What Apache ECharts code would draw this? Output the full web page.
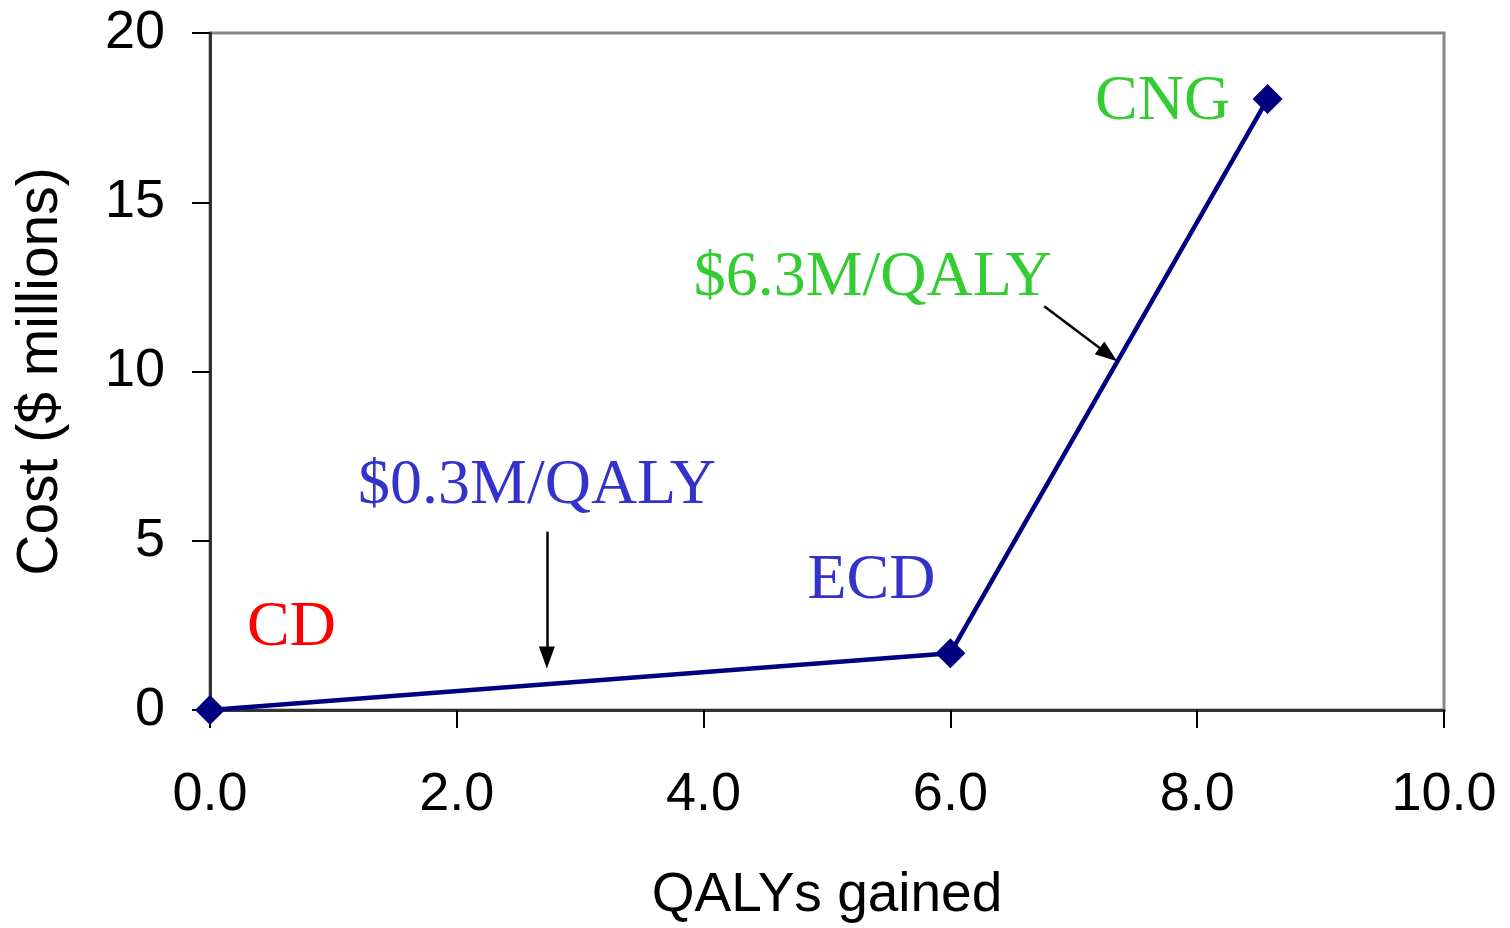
<!DOCTYPE html>
<html style="height: 100%">
<head>
    <meta charset="utf-8">
    <title>Cost vs QALYs</title>
</head>
<body style="height: 100%; margin: 0; background: #fff">
<div id="container" style="width: 1510px; height: 928px"></div>
<script type="text/javascript" src="https://cdn.jsdelivr.net/npm/echarts@6/dist/echarts.min.js"></script>
<script type="text/javascript">
    // frontier points: [QALYs gained, cost in $ millions]
    var frontier = [[0, 0], [6.0, 1.68], [8.57, 18.05]];

    // text notes: [x, y, text, colour]
    var notes = [
        [0.66, 2.42, 'CD', '#ff0000'],
        [2.65, 6.6, '$0.3M/QALY', '#3333cc'],
        [5.36, 3.8, 'ECD', '#3333cc'],
        [7.72, 17.97, 'CNG', '#33cc33'],
        [5.37, 12.75, '$6.3M/QALY', '#33cc33']
    ];

    // arrows: [x1, y1, x2, y2]
    var arrows = [
        [2.73, 5.27, 2.73, 1.55],
        [6.76, 11.93, 7.28, 10.5]
    ];

    var dom = document.getElementById('container');
    var myChart = echarts.init(dom);

    var option = {
        animation: false,
        grid: {
            left: 210,
            right: 66,
            top: 33,
            bottom: 212,
            show: true,
            borderColor: '#888',
            borderWidth: 3
        },
        xAxis: {
            type: 'value',
            min: 0,
            max: 10,
            interval: 2,
            name: 'QALYs gained',
            nameLocation: 'middle',
            nameGap: 158,
            nameTextStyle: {fontFamily: 'Liberation Sans', fontSize: 55, color: '#000'},
            axisLine: {lineStyle: {color: '#333', width: 3}},
            axisTick: {length: 18, lineStyle: {color: '#000', width: 2}},
            axisLabel: {
                fontFamily: 'Liberation Sans', fontSize: 54, color: '#000', margin: 58,
                formatter: function (v) { return v.toFixed(1); }
            },
            splitLine: {show: false}
        },
        yAxis: {
            type: 'value',
            min: 0,
            max: 20,
            interval: 5,
            name: 'Cost ($ millions)',
            nameLocation: 'middle',
            nameGap: 140,
            nameTextStyle: {fontFamily: 'Liberation Sans', fontSize: 57, color: '#000'},
            axisLine: {show: true, lineStyle: {color: '#333', width: 3}},
            axisTick: {show: true, length: 18, lineStyle: {color: '#000', width: 2}},
            axisLabel: {fontFamily: 'Liberation Sans', fontSize: 54, color: '#000', margin: 45},
            splitLine: {show: false}
        },
        series: [{
            type: 'line',
            data: frontier,
            symbol: 'diamond',
            symbolSize: 30,
            itemStyle: {color: '#000080'},
            lineStyle: {color: '#000080', width: 4.5},
            markLine: {
                silent: true,
                symbol: ['none', 'triangle'],
                symbolSize: [16, 22],
                label: {show: false},
                lineStyle: {color: '#000', width: 2.5, type: 'solid'},
                data: arrows.map(function (a) {
                    return [{coord: [a[0], a[1]]}, {coord: [a[2], a[3]]}];
                })
            }
        }, {
            type: 'scatter',
            symbolSize: 0,
            silent: true,
            itemStyle: {opacity: 1},
            data: notes.map(function (n) {
                return {
                    value: [n[0], n[1]],
                    label: {
                        show: true,
                        position: 'inside',
                        formatter: n[2],
                        fontFamily: 'Liberation Serif',
                        fontSize: 64,
                        color: n[3]
                    }
                };
            })
        }]
    };

    myChart.setOption(option, true);
</script>
</body>
</html>
